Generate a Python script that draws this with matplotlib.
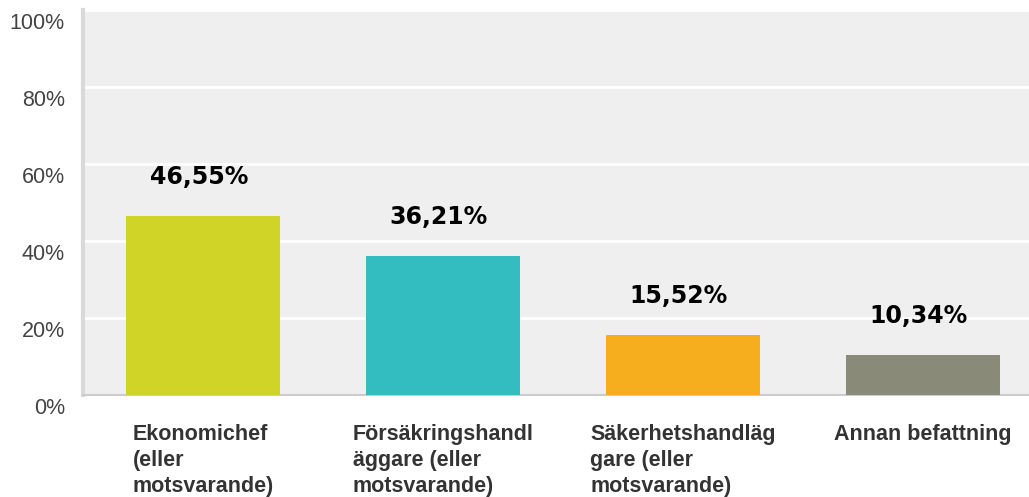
import matplotlib.pyplot as plt
from matplotlib.transforms import ScaledTranslation

# data
categories = ['Ekonomichef\n(eller\nmotsvarande)',
              'Försäkringshandl\näggare (eller\nmotsvarande)',
              'Säkerhetshandläg\ngare (eller\nmotsvarande)',
              'Annan befattning']
values = [46.55, 36.21, 15.52, 10.34]
value_labels = ['46,55%', '36,21%', '15,52%', '10,34%']
bar_colors = ['#cfd427', '#33bdc0', '#f6ae1f', '#8a8a79']
y_ticks = [0, 20, 40, 60, 80, 100]
y_tick_labels = ['0%', '20%', '40%', '60%', '80%', '100%']

fig = plt.figure(figsize=(10.29, 4.97), dpi=100)
ax = fig.add_axes([83 / 1029, 102 / 497, 960 / 1029, 385 / 497])
ax.set_facecolor('#efefef')

x = range(len(values))
ax.bar(x, values, width=0.64, color=bar_colors, zorder=3)

ax.set_xlim(-0.5, 3.5)
ax.set_ylim(0, 100)

# gridlines
ax.set_yticks(y_ticks)
ax.yaxis.grid(True, color='white', linewidth=2)
ax.set_axisbelow(True)

for s in ['top', 'right']:
    ax.spines[s].set_visible(False)
ax.spines['left'].set_color('#d9d9d9')
ax.spines['left'].set_linewidth(3)
ax.spines['bottom'].set_color('#cccccc')
ax.spines['bottom'].set_linewidth(1.5)

ax.set_yticklabels(y_tick_labels, fontsize=15.5, color='#444444', family='Liberation Sans')
ax.tick_params(axis='y', length=0, pad=13)
for lbl in ax.get_yticklabels():
    lbl.set_transform(lbl.get_transform() + ScaledTranslation(0, -11 / 100, fig.dpi_scale_trans))

ax.set_xticks(list(x))
ax.set_xticklabels(categories, fontsize=15.5, fontweight='bold', color='#333333',
                   family='Liberation Sans', multialignment='left', linespacing=1.3)
ax.tick_params(axis='x', length=0, pad=21)

# value labels
for i, v in enumerate(values):
    ax.annotate(value_labels[i], (i, v), xytext=(-3, 23), textcoords='offset points',
                ha='center', va='baseline', fontsize=17, fontweight='bold',
                color='black', family='DejaVu Sans')

fig.savefig('out.png', dpi=100)
